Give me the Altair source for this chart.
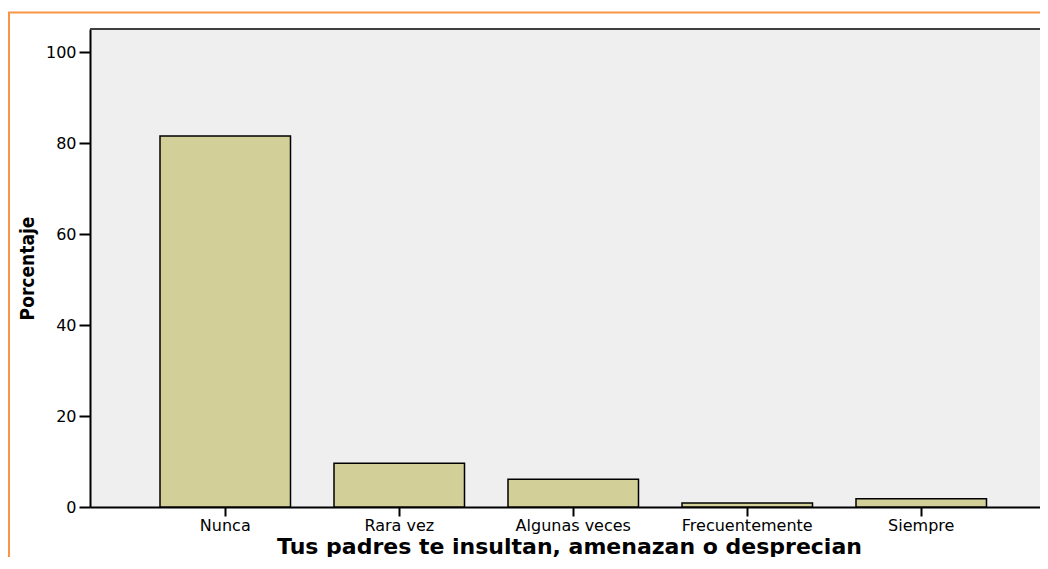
import altair as alt
import pandas as pd

categories = ["Nunca", "Rara vez", "Algunas veces", "Frecuentemente", "Siempre"]
percentages = [81.6, 9.6, 6.1, 0.9, 1.8]

df = pd.DataFrame({"cat": categories, "pct": percentages})

W = 950
H = 478

bars = alt.Chart(df).mark_bar(
    fill="#d3cf99", stroke="#000000", strokeWidth=1.5
).encode(
    x=alt.X(
        "cat:N",
        sort=categories,
        scale=alt.Scale(range=[0, 966.5], paddingInner=0.25, paddingOuter=0.4023),
        axis=alt.Axis(
            title="Tus padres te insultan, amenazan o desprecian",
            labelAngle=0,
            labelFont="DejaVu Sans",
            labelFontSize=16,
            labelColor="#000000",
            labelPadding=1,
            tickSize=9,
            tickWidth=2,
            tickColor="#000000",
            domainColor="#000000",
            domainWidth=2,
            titleFont="DejaVu Sans",
            titleFontWeight="bold",
            titleFontSize=22,
            titleColor="#000000",
            titleBaseline="alphabetic",
            titleY=46,
            titleX=479,
            titleAlign="center",
        ),
    ),
    y=alt.Y(
        "pct:Q",
        scale=alt.Scale(domain=[0, 105.1], nice=False, zero=True),
        axis=alt.Axis(
            title="Porcentaje",
            values=[0, 20, 40, 60, 80, 100],
            grid=False,
            labelFont="DejaVu Sans",
            labelFontSize=16,
            labelColor="#000000",
            labelPadding=3,
            tickSize=11,
            tickWidth=2,
            tickColor="#000000",
            domainColor="#000000",
            domainWidth=2,
            titleFont="Liberation Sans Narrow, DejaVu Sans Condensed, sans-serif",
            titleFontWeight="bold",
            titleFontSize=19,
            titleColor="#000000",
            titleAngle=-90,
            titleBaseline="alphabetic",
            titleAlign="center",
            titleX=-57,
            titleY=239,
        ),
    ),
)

top_border = alt.Chart(alt.Data(values=[{}])).mark_rule(
    color="#404040", strokeWidth=2
).encode(x=alt.value(0), x2=alt.value(W + 10), y=alt.value(0))

frame_left = alt.Chart(alt.Data(values=[{}])).mark_rule(
    color="#f79646", strokeWidth=2
).encode(x=alt.value(-81), y=alt.value(-16.5), y2=alt.value(600))

frame_top = alt.Chart(alt.Data(values=[{}])).mark_rule(
    color="#f79646", strokeWidth=2
).encode(x=alt.value(-82), x2=alt.value(1100), y=alt.value(-16.5))

chart = alt.layer(bars, top_border, frame_left, frame_top).properties(
    width=W,
    height=H,
    autosize=alt.AutoSizeParams(type="none"),
    padding={"left": 82, "top": 21, "right": 0, "bottom": 50},
    background="#ffffff",
).configure_view(
    fill="#efefef", strokeWidth=0
)

chart.save("out.html", embed_options={"renderer": "svg", "actions": False})
